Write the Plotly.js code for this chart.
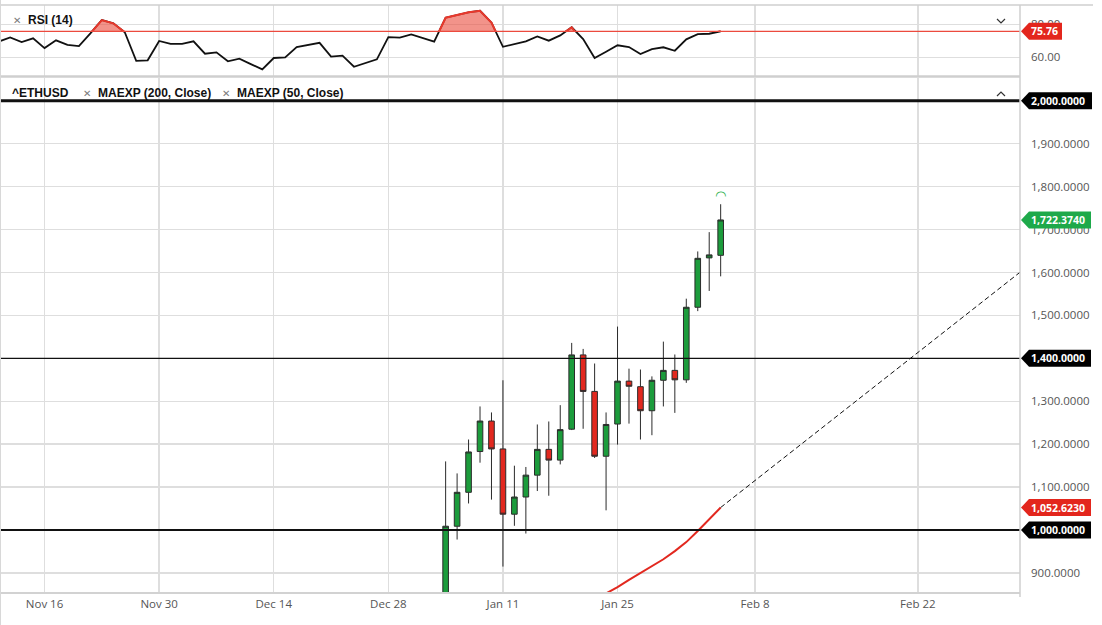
<!DOCTYPE html>
<html><head><meta charset="utf-8">
<script src="https://cdn.plot.ly/plotly-3.0.1.min.js"></script>
<style>html,body{margin:0;padding:0;background:#fff}#chart{width:1102px;height:625px}</style>
</head><body><div id="chart"></div>
<script>
// ---------- DATA (x = trading-day index, 0 = Mon Jan 4) ----------
const candleDay   = [0,1,2,3,4,5,6,7,8,9,10,11,12,13,14,15,16,17,18,19,20,21,22,23,24];
const candleOpen  = [775,1009,1088,1183,1254,1189,1037,1077,1128,1188,1163,1235,1408,1323,1172,1247,1347,1334,1278,1349,1372,1350,1519,1634,1640];
const candleHigh  = [1160,1132,1211,1288,1274,1349,1150,1147,1246,1253,1291,1436,1422,1388,1274,1474,1376,1374,1358,1439,1409,1539,1649,1694,1759];
const candleLow   = [760,978,1062,1157,1071,915,1010,992,1091,1080,1153,1233,1236,1168,1046,1199,1248,1211,1221,1288,1273,1343,1510,1557,1591];
const candleClose = [1009,1088,1182,1254,1189,1037,1077,1128,1188,1163,1234,1408,1323,1172,1246,1347,1335,1278,1349,1372,1350,1519,1633,1641,1722.374];

const maDay   = [13,14,15,16,17,18,19,20,21,22,23,24];
const ma50    = [838,852,867,884,900,915,932,951,972,998,1026,1052.623];

const projDay = [24,52];
const projVal = [1052.623,1640];

const rsiFirstDay = -39;
const rsiValues = [69.5,72.1,69.3,71.5,65.6,70.3,67.6,66.8,74.5,82.6,80.6,75.2,57.9,58.2,69.9,68.1,68.2,69.7,62.2,63.0,
  57.6,59.2,55.9,52.7,59.6,60.0,66.2,67.6,68.8,60.4,61.0,54.3,56.4,58.8,72.2,71.9,73.9,71.7,69.5,
  84.0,85.5,87.3,88.2,81.0,66.4,68.1,69.7,72.7,70.1,73.3,78.2,71.1,59.6,63.4,67.3,66.2,62.0,65.0,66.1,64.0,70.9,74.1,74.3,75.76];
const rsiLast = 75.76;
const rsiTicks = [60,80];

const tickDay    = [-35,-25,-15,-5,5,15,27,41.2];
const tickLabels = ['Nov 16','Nov 30','Dec 14','Dec 28','Jan 11','Jan 25','Feb 8','Feb 22'];

// price axis labels that are not hidden under the level tags
const priceTicks = [900,1100,1200,1300,1500,1600,1700,1800,1900];
const levels = [2000,1400,1000];
const lastClose = 1722.374;
const lastMA = 1052.623;

// ---------- LAYOUT GEOMETRY ----------
const W=1102,H=625,ML=1,MR=82,MT=5,MB=33;
const PW=W-ML-MR, PH=H-MT-MB;
const pX = x => (x-ML)/PW;
const pY = y => (H-MB-y)/PH;
const rsiDomain=[pY(76),1];
const priceDomain=[0,pY(78)];
const rsiRange=[48.7,91.7];
const priceRange=[855.8,2053];
const xRange=[-38.8,50.12];
const threshDomain = rsiDomain[0] + (rsiLast-rsiRange[0])/(rsiRange[1]-rsiRange[0])*(rsiDomain[1]-rsiDomain[0]);

const GREEN='#1c9c3c', RED='#e2281f', TAGGREEN='#1ea94a', TAGRED='#e3261d';
const FONT='"Open Sans", sans-serif';
const rsiDays = rsiValues.map((_,i)=>rsiFirstDay+i);

const traces = [
  {type:'candlestick', x:candleDay, open:candleOpen, high:candleHigh, low:candleLow, close:candleClose,
   xaxis:'x', yaxis:'y', whiskerwidth:0,
   increasing:{fillcolor:GREEN, line:{color:'#2b2b2b', width:1}},
   decreasing:{fillcolor:RED, line:{color:'#2b2b2b', width:1}},
   showlegend:false, hoverinfo:'skip'},
  {type:'scatter', mode:'lines', x:maDay, y:ma50, xaxis:'x', yaxis:'y',
   line:{color:RED, width:2}, showlegend:false, hoverinfo:'skip'},
  {type:'scatter', mode:'lines', x:projDay, y:projVal, xaxis:'x', yaxis:'y',
   line:{color:'#111', width:1, dash:'5px,3px'}, showlegend:false, hoverinfo:'skip'},
  {type:'scatter', mode:'lines', x:rsiDays, y:rsiValues, xaxis:'x2', yaxis:'y2',
   line:{color:'#111', width:1.8}, showlegend:false, hoverinfo:'skip'},
  {type:'scatter', mode:'lines', x:rsiDays, y:rsiValues, xaxis:'x2', yaxis:'y3',
   line:{color:'#e8382c', width:2}, fill:'tozeroy', fillcolor:'rgba(234,80,66,0.62)',
   showlegend:false, hoverinfo:'skip'}
];

const axisFont = {family:FONT, size:11.5, color:'#555'};
const xCommon = {range:xRange, tickvals:tickDay, ticktext:tickLabels, showgrid:true,
  gridcolor:'#dedede', gridwidth:1.5, zeroline:false, ticks:'', fixedrange:true};

function tag(yref, yval, color, w){
  return {type:'path', xref:'paper', yref:yref, xsizemode:'pixel', ysizemode:'pixel',
    xanchor:1, yanchor:yval, path:`M 1 0 L 9 -8.5 L ${w} -8.5 L ${w} 8.5 L 9 8.5 Z`,
    fillcolor:color, line:{width:0}, layer:'above'};
}
function tagText(yref, yval, text){
  return {xref:'paper', yref:yref, x:1, y:yval, xanchor:'left', yanchor:'middle', xshift:9,
    text:'<b>'+text+'</b>', showarrow:false, font:{family:FONT, size:10.5, color:'#fff'}};
}
const fmt4 = v => v.toLocaleString('en-US',{minimumFractionDigits:4, maximumFractionDigits:4});

const shapes = [];
const annotations = [];
// horizontal price levels
[[levels[0],3],[levels[1],1.2],[levels[2],2]].forEach(([v,w])=>{
  shapes.push({type:'line', xref:'x domain', yref:'y', x0:0, x1:1, y0:v, y1:v, line:{color:'#111', width:w}, layer:'above'});
});
// RSI current value line
shapes.push({type:'line', xref:'x2 domain', yref:'y2', x0:0, x1:1, y0:rsiLast, y1:rsiLast, line:{color:'#ec4a3e', width:1.2}, layer:'above'});
// frame lines
shapes.push({type:'line', xref:'paper', yref:'paper', x0:0, x1:pX(1093), y0:1, y1:1, line:{color:'#cfcfcf', width:1.5}});
shapes.push({type:'line', xref:'paper', yref:'paper', x0:0, x1:1, y0:pY(76.5), y1:pY(76.5), line:{color:'#cfcfcf', width:2.5}});
shapes.push({type:'line', xref:'paper', yref:'paper', x0:1, x1:1, y0:pY(597), y1:1, line:{color:'#cfcfcf', width:1.5}});
shapes.push({type:'line', xref:'paper', yref:'paper', x0:pX(0.5), x1:pX(0.5), y0:pY(625), y1:pY(0), line:{color:'#d8d8d8', width:1}});
// chevrons (collapse/expand)
function chevron(x, y, up){
  const d = up ? 'M -4 -2 L 0 2 L 4 -2' : 'M -4 2 L 0 -2 L 4 2';
  return {type:'path', xref:'paper', yref:'paper', xsizemode:'pixel', ysizemode:'pixel',
    xanchor:pX(x), yanchor:pY(y), path:d, line:{color:'#333', width:1.2}, layer:'above'};
}
shapes.push(chevron(1001, 21, false));
shapes.push(chevron(1001, 94, true));
// value tags
shapes.push(tag('y2', rsiLast, TAGRED, 42));
annotations.push(tagText('y2', rsiLast, rsiLast.toFixed(2)));
shapes.push(tag('y', levels[0], '#000', 72));
annotations.push(tagText('y', levels[0], fmt4(levels[0])));
shapes.push(tag('y', lastClose, TAGGREEN, 71));
annotations.push(tagText('y', lastClose, fmt4(lastClose)));
shapes.push(tag('y', levels[1], '#000', 71));
annotations.push(tagText('y', levels[1], fmt4(levels[1])));
shapes.push(tag('y', lastMA, TAGRED, 71));
annotations.push(tagText('y', lastMA, fmt4(lastMA)));
shapes.push(tag('y', levels[2], '#000', 71));
annotations.push(tagText('y', levels[2], fmt4(levels[2])));

// headers
const HF = {family:'"Liberation Sans", Arial, sans-serif', size:12, color:'#111'};
const XF = {family:'"DejaVu Sans", sans-serif', size:10, color:'#7a7a7a'};
function hdr(x, y, text, font){
  annotations.push({xref:'paper', yref:'paper', x:pX(x), y:pY(y), xanchor:'left', yanchor:'middle',
    text:text, showarrow:false, font:font||HF});
}
hdr(11, 20, '✕', XF);  hdr(26, 20, '<b>RSI (14)</b>');
hdr(10, 93, '<b>^ETHUSD</b>');
hdr(81, 93, '✕', XF);  hdr(96, 93, '<b>MAEXP (200, Close)</b>');
hdr(220, 93, '✕', XF); hdr(235, 93, '<b>MAEXP (50, Close)</b>');
// alert marker above last candle
annotations.push({xref:'x', yref:'y', x:candleDay[candleDay.length-1], y:candleHigh[candleHigh.length-1],
  yanchor:'bottom', yshift:-1, text:'◠', showarrow:false, font:{family:'DejaVu Sans', size:13, color:'#2db04f'}});

const layout = {
  width:W, height:H, margin:{l:ML, r:MR, t:MT, b:MB},
  paper_bgcolor:'#fff', plot_bgcolor:'rgba(0,0,0,0)', showlegend:false,
  xaxis: Object.assign({}, xCommon, {anchor:'y', domain:[0,1], rangeslider:{visible:false},
    showline:true, linecolor:'#d2d2d2', linewidth:2, tickfont:axisFont}),
  xaxis2: Object.assign({}, xCommon, {anchor:'y2', domain:[0,1], matches:'x', showticklabels:false}),
  yaxis: {anchor:'x', domain:priceDomain, range:priceRange, side:'right', tickvals:priceTicks,
    tickformat:',.4f', gridcolor:'#dedede', gridwidth:1.5, zeroline:false, ticks:'',
    ticklabelstandoff:10, tickfont:axisFont, fixedrange:true},
  yaxis2: {anchor:'x2', domain:rsiDomain, range:rsiRange, side:'right', tickvals:rsiTicks,
    tickformat:'.2f', gridcolor:'#dedede', gridwidth:1.5, zeroline:false, ticks:'',
    ticklabelstandoff:10, tickfont:axisFont, fixedrange:true},
  yaxis3: {anchor:'x2', domain:[threshDomain,1], range:[rsiLast, rsiRange[1]], visible:false,
    showgrid:false, zeroline:false, fixedrange:true},
  shapes:shapes, annotations:annotations
};

Plotly.newPlot('chart', traces, layout, {displayModeBar:false, staticPlot:true});
</script></body></html>
